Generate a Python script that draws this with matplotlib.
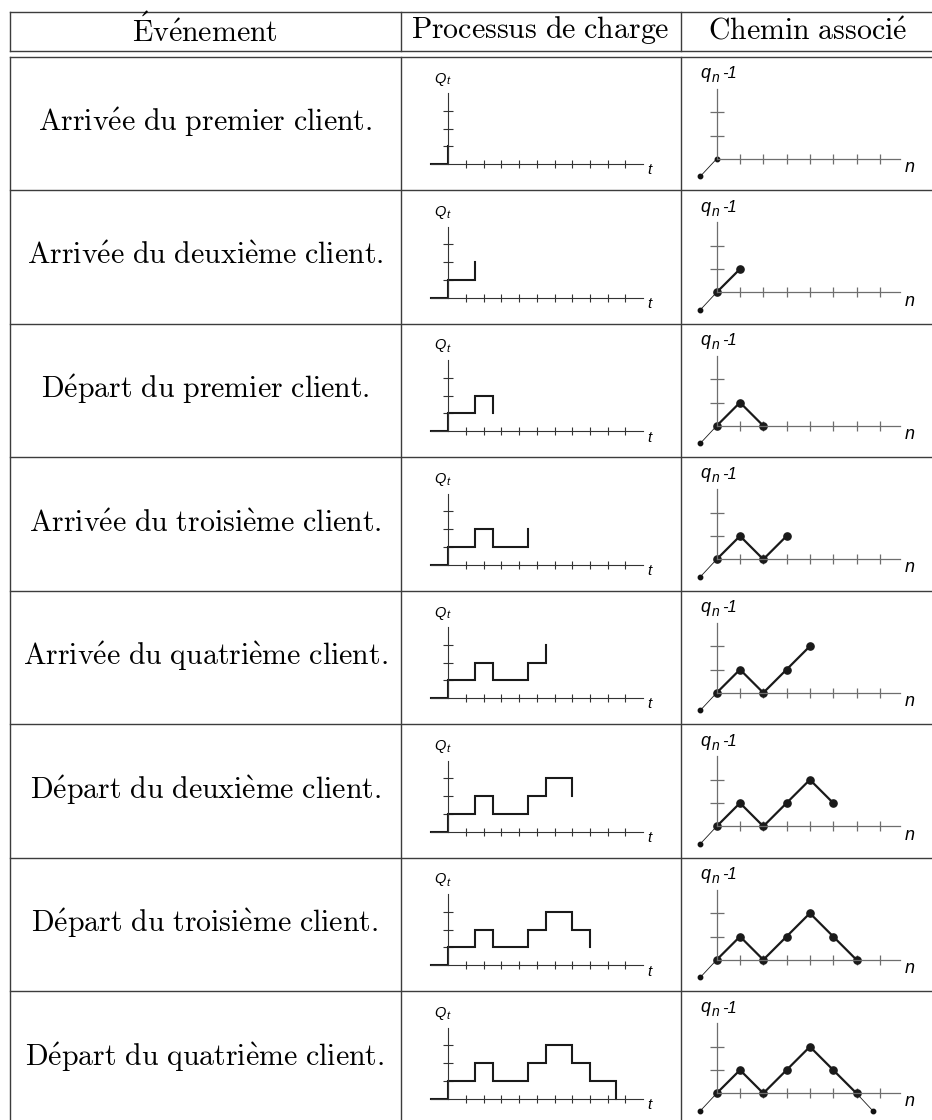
import matplotlib
matplotlib.use("Agg")
from matplotlib import pyplot as plt

# Table text (mathtext with Computer Modern to look like LaTeX)
headers = [r"$\mathrm{\acute{E}v\acute{e}nement}$",
           r"$\mathrm{Processus\ de\ charge}$",
           r"$\mathrm{Chemin\ associ\acute{e}}$"]
events = [r"$\mathrm{Arriv\acute{e}e\ du\ premier\ client.}$",
          r"$\mathrm{Arriv\acute{e}e\ du\ deuxi\grave{e}me\ client.}$",
          r"$\mathrm{D\acute{e}part\ du\ premier\ client.}$",
          r"$\mathrm{Arriv\acute{e}e\ du\ troisi\grave{e}me\ client.}$",
          r"$\mathrm{Arriv\acute{e}e\ du\ quatri\grave{e}me\ client.}$",
          r"$\mathrm{D\acute{e}part\ du\ deuxi\grave{e}me\ client.}$",
          r"$\mathrm{D\acute{e}part\ du\ troisi\grave{e}me\ client.}$",
          r"$\mathrm{D\acute{e}part\ du\ quatri\grave{e}me\ client.}$"]

# Load process: time of each event and queue length just after it
event_times = [0, 1.5, 2.5, 4.5, 5.5, 7, 8, 9.5]
queue_levels = [1, 2, 1, 2, 3, 2, 1, 0]
t_ticks = [1, 2, 3, 4, 5, 6, 7, 8, 9, 10]
q_ticks = [1, 2, 3]

# Associated path q_n - 1
path_vals = [0, 1, 0, 1, 2, 1, 0]
start_pt = (-0.7, -0.75)
end_pt = (6.7, -0.75)
n_ticks = [1, 2, 3, 4, 5, 6, 7]
p_ticks = [1, 2]

W, H = 932, 1120
fig = plt.figure(figsize=(W / 100, H / 100), dpi=100)
base = fig.add_axes([0, 0, 1, 1])
base.set_xlim(0, W)
base.set_ylim(H, 0)
base.axis("off")

# table grid (pixel layout)
grid_c = "#3c3c3c"
x_left, x_c1, x_c2, x_right = 9.5, 400.5, 680.5, 935
head_top, head_bot, body_top = 11.5, 50.5, 56.5
row_h = 133.5
base.plot([x_left, x_right], [head_top, head_top], c=grid_c, lw=1.0)
base.plot([x_left, x_right], [head_bot, head_bot], c=grid_c, lw=1.0)
for i in range(8):
    y = body_top + i * row_h
    base.plot([x_left, x_right], [y, y], c=grid_c, lw=1.0)
for x in [x_left, x_c1, x_c2, x_right]:
    base.plot([x, x], [head_top, head_bot], c=grid_c, lw=1.0)
    base.plot([x, x], [body_top, H + 5], c=grid_c, lw=1.0)

cm_size = 21.5
col_centers = [205, 540.5, 807.5]
for cx, txt in zip(col_centers, headers):
    base.text(cx, 30.5, txt, ha="center", va="center", fontsize=cm_size,
              math_fontfamily="cm")


def inset(ox, oy, unit, xlim, ylim):
    # axes placed so that one data unit = unit pixels, origin at (ox, oy)
    left = ox + xlim[0] * unit
    bottom = oy - ylim[0] * unit
    w = (xlim[1] - xlim[0]) * unit
    h = (ylim[1] - ylim[0]) * unit
    ax = fig.add_axes([left / W, 1 - bottom / H, w / W, h / H])
    ax.set_xlim(*xlim)
    ax.set_ylim(*ylim)
    ax.patch.set_visible(False)
    for s in ["top", "right"]:
        ax.spines[s].set_visible(False)
    ax.spines["left"].set_position(("data", 0))
    ax.spines["bottom"].set_position(("data", 0))
    ax.set_xticklabels([])
    ax.set_yticklabels([])
    return ax


sans_it = dict(family="Liberation Sans", style="italic")

for i in range(8):
    top = body_top + i * row_h
    k = i + 1
    base.text(205, top + 66, events[i], ha="center", va="center",
              fontsize=cm_size, math_fontfamily="cm")

    # --- load process Q_t ---
    u1 = 17.7
    ax1 = inset(448.3, top + 107.5, u1, (-1.2, 11.5), (-0.6, 4.3))
    ac = "#333333"
    for s in ["left", "bottom"]:
        ax1.spines[s].set_color(ac)
        ax1.spines[s].set_linewidth(0.8)
    ax1.spines["bottom"].set_bounds(-1, 11)
    ax1.spines["left"].set_bounds(0, 4)
    ax1.set_xticks(t_ticks)
    ax1.set_yticks(q_ticks)
    ax1.tick_params(axis="x", direction="inout", length=5.3, width=0.8, color=ac)
    ax1.tick_params(axis="y", direction="inout", length=7.7, width=0.8, color=ac)
    xs = [-1] + event_times[:k]
    ys = [0] + queue_levels[:k]
    ax1.plot(xs, ys, drawstyle="steps-post", c="#1a1a1a", lw=1.5,
             solid_joinstyle="miter", clip_on=False)
    base.text(434.5, top + 26, "Q", fontsize=10.5, va="baseline", **sans_it)
    base.text(446.5, top + 28, "t", fontsize=8, va="baseline", **sans_it)
    base.text(647, top + 118, "t", fontsize=11, va="baseline", **sans_it)

    # --- associated path q_n - 1 ---
    u2 = 23.3
    ax2 = inset(716.7, top + 102.3, u2, (-1.0, 8.2), (-1.0, 3.3))
    pc = "#6e6e6e"
    for s in ["left", "bottom"]:
        ax2.spines[s].set_color(pc)
        ax2.spines[s].set_linewidth(0.9)
    ax2.spines["bottom"].set_bounds(0, 7.86)
    ax2.spines["left"].set_bounds(0, 3.0)
    ax2.set_xticks(n_ticks)
    ax2.set_yticks(p_ticks)
    ax2.tick_params(axis="x", direction="inout", length=7.7, width=0.9, color=pc)
    ax2.tick_params(axis="y", direction="inout", length=10, width=0.9, color=pc)

    ax2.plot([start_pt[0], 0], [start_pt[1], path_vals[0]], c="#1a1a1a",
             lw=0.6, clip_on=False)
    ax2.plot([start_pt[0]], [start_pt[1]], "o", c="#111111", ms=3.2,
             clip_on=False)
    if k == 1:
        ax2.plot([0], [path_vals[0]], "o", c="#111111", ms=3.2, clip_on=False)
    else:
        npts = min(k, len(path_vals))
        ax2.plot(list(range(npts)), path_vals[:npts], "-o", c="#1a1a1a",
                 lw=1.6, ms=5.2, clip_on=False)
    if k == 8:
        last = len(path_vals) - 1
        ax2.plot([last, end_pt[0]], [path_vals[last], end_pt[1]], c="#1a1a1a",
                 lw=0.6, clip_on=False)
        ax2.plot([end_pt[0]], [end_pt[1]], "o", c="#111111", ms=3.2,
                 clip_on=False)

    base.text(700.5, top + 21.5, "q", fontsize=13, va="baseline", **sans_it)
    base.text(712, top + 25.5, "n", fontsize=10, va="baseline", **sans_it)
    base.text(722.5, top + 21.8, "-1", fontsize=12, va="baseline", **sans_it)
    base.text(905, top + 115.5, "n", fontsize=13, va="baseline", **sans_it)

fig.savefig("out.png", dpi=100)
